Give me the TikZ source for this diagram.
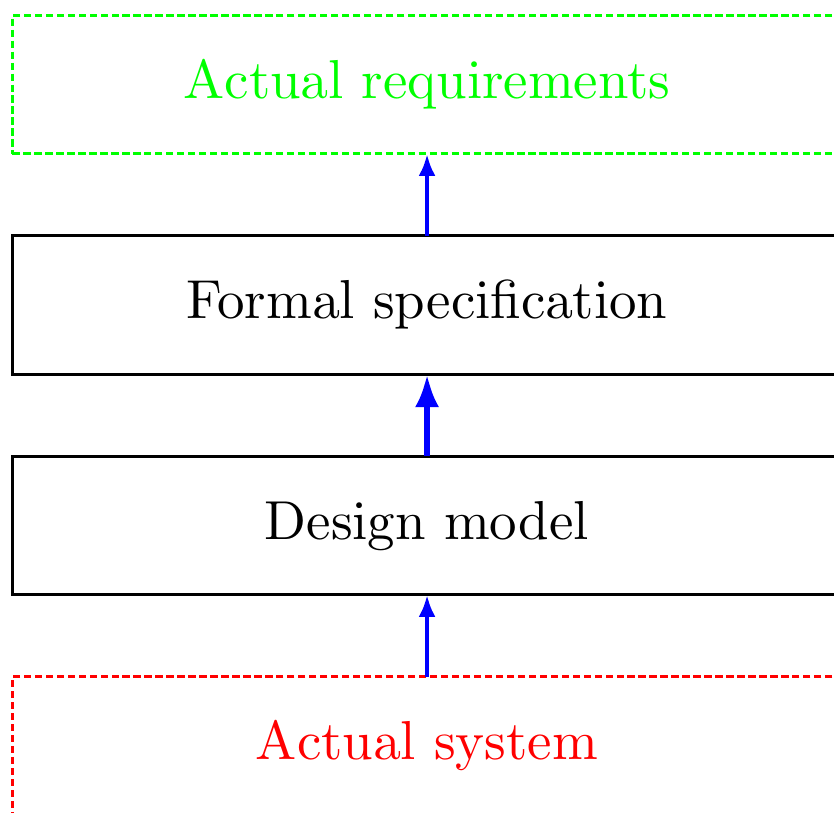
\documentclass[tikz,border=0pt]{standalone}
\usepackage{tikz}
\usetikzlibrary{positioning, calc, arrows.meta}

\font\layerfont=cmr10 at 15pt

\begin{document}
\begin{tikzpicture}
    [layerbox/.style={rectangle, draw=black, thick, outer sep=0pt, minimum width=226.6pt, minimum height=37.87pt, font=\layerfont},
    dashedbox/.style={layerbox, dash pattern=on 2pt off 1pt},
    uparrow/.style={-{Latex[length=6pt, width=4.6pt]}, blue, very thick},
    bigarrow/.style={-{Latex[length=9pt, width=6.6pt]}, blue, ultra thick},]

    \clip (-116.7pt,23.1pt) rectangle (111.2pt,-198.8pt);

    %Nodes
    \node[dashedbox, draw=green, text=green](R){Actual requirements};
    \node[layerbox](F)[below=22.38pt of R]{Formal specification};
    \node[layerbox](D)[below=22.38pt of F]{Design model};
    \node[dashedbox, draw=red, text=red](S)[below=22.38pt of D]{Actual system};

    %Arrows
    \draw[uparrow] (F) -- (R);
    \draw[bigarrow] (D) -- (F);
    \draw[uparrow] (S) -- (D);
\end{tikzpicture}
\end{document}
